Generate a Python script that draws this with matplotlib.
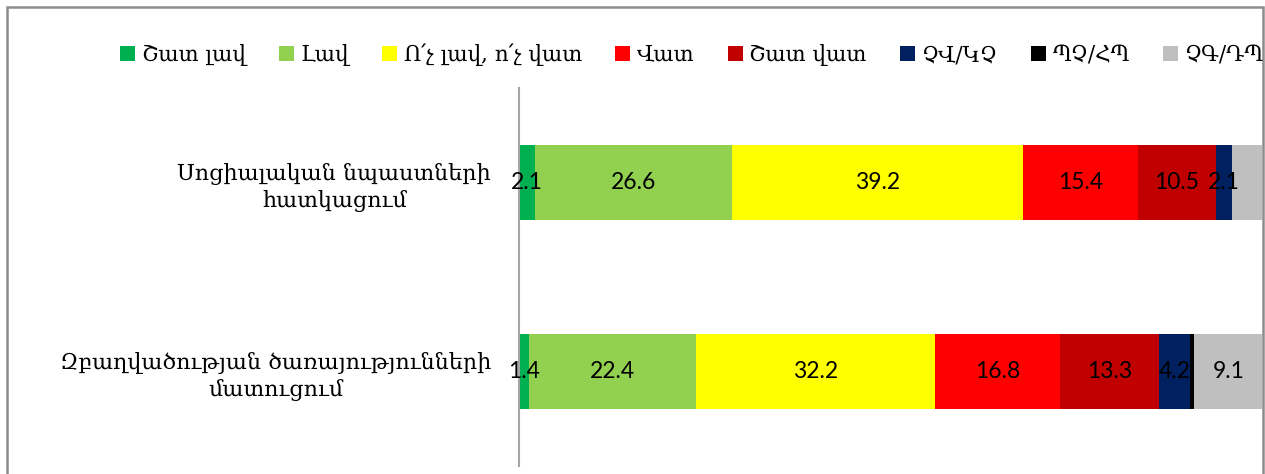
import matplotlib
matplotlib.use("Agg")
import matplotlib.pyplot as plt
from matplotlib.patches import Rectangle, Patch

categories = ["Սոցիալական նպաստների\nհատկացում",
              "Զբաղվածության ծառայությունների\nմատուցում"]
series = ["Շատ լավ", "Լավ", "Ո՛չ լավ, ո՛չ վատ", "Վատ", "Շատ վատ",
          "ՉՎ/ԿՉ", "ՊՉ/ՀՊ", "ՉԳ/ԴՊ"]
very_good = [2.1, 1.4]
good = [26.6, 22.4]
neutral = [39.2, 32.2]
bad = [15.4, 16.8]
very_bad = [10.5, 13.3]
dk_na = [2.1, 4.2]
refused = [0.0, 0.6]
unknown = [4.1, 9.1]
values = [very_good, good, neutral, bad, very_bad, dk_na, refused, unknown]
colors = ["#00B050", "#92D050", "#FFFF00", "#FF0000", "#C00000",
          "#002060", "#000000", "#BFBFBF"]
# which labels are shown in the reference
show = [[True, True], [True, True], [True, True], [True, True], [True, True],
        [True, True], [False, False], [False, True]]

fig = plt.figure(figsize=(12.65, 4.74), dpi=100)
ax = fig.add_axes([519/1265, 1-466/474, (1262-519)/1265, (466-88)/474])

ypos = list(range(len(categories)))
left = [0.0]*len(categories)
for vals, col, lab, sh in zip(values, colors, series, show):
    ax.barh(ypos, vals, left=left, height=0.4, color=col, label=lab)
    for i, v in enumerate(vals):
        if sh[i]:
            ax.text(left[i] + v/2, ypos[i], f"{v:.1f}", ha="center", va="center",
                    fontsize=16.5, family=["Lato", "DejaVu Sans"], color="#000000")
    left = [l + v for l, v in zip(left, vals)]

ax.set_xlim(0, 100)
ax.set_ylim(1.5, -0.5)
ax.set_xticks([])
ax.set_yticks(ypos)
ax.set_yticklabels(categories, fontsize=16, family=["DejaVu Serif"])
for t in ax.get_yticklabels():
    t.set_multialignment("center")
    t.set_linespacing(1.3)
    t.set_y(t.get_position()[1])
ax.tick_params(axis="y", length=0, pad=20)
for s in ["top", "right", "bottom"]:
    ax.spines[s].set_visible(False)
ax.spines["left"].set_color("#A6A6A6")
ax.spines["left"].set_linewidth(1.5)

handles = [Patch(facecolor=c, edgecolor="none") for c in colors]
fig.legend(handles, series, loc="center", bbox_to_anchor=(692/1265, 1-55/474),
           ncol=8, frameon=False, handlelength=0.7, handleheight=0.7,
           handletextpad=0.3, columnspacing=1.55,
           prop={"family": "DejaVu Serif", "size": 15.5})

fig.add_artist(Rectangle((7/1265, -0.05), (1263-7)/1265, 1.05 - 7/474,
                         transform=fig.transFigure, fill=False,
                         edgecolor="#8C8C8C", linewidth=1.8))

fig.savefig("out.png", dpi=100)
